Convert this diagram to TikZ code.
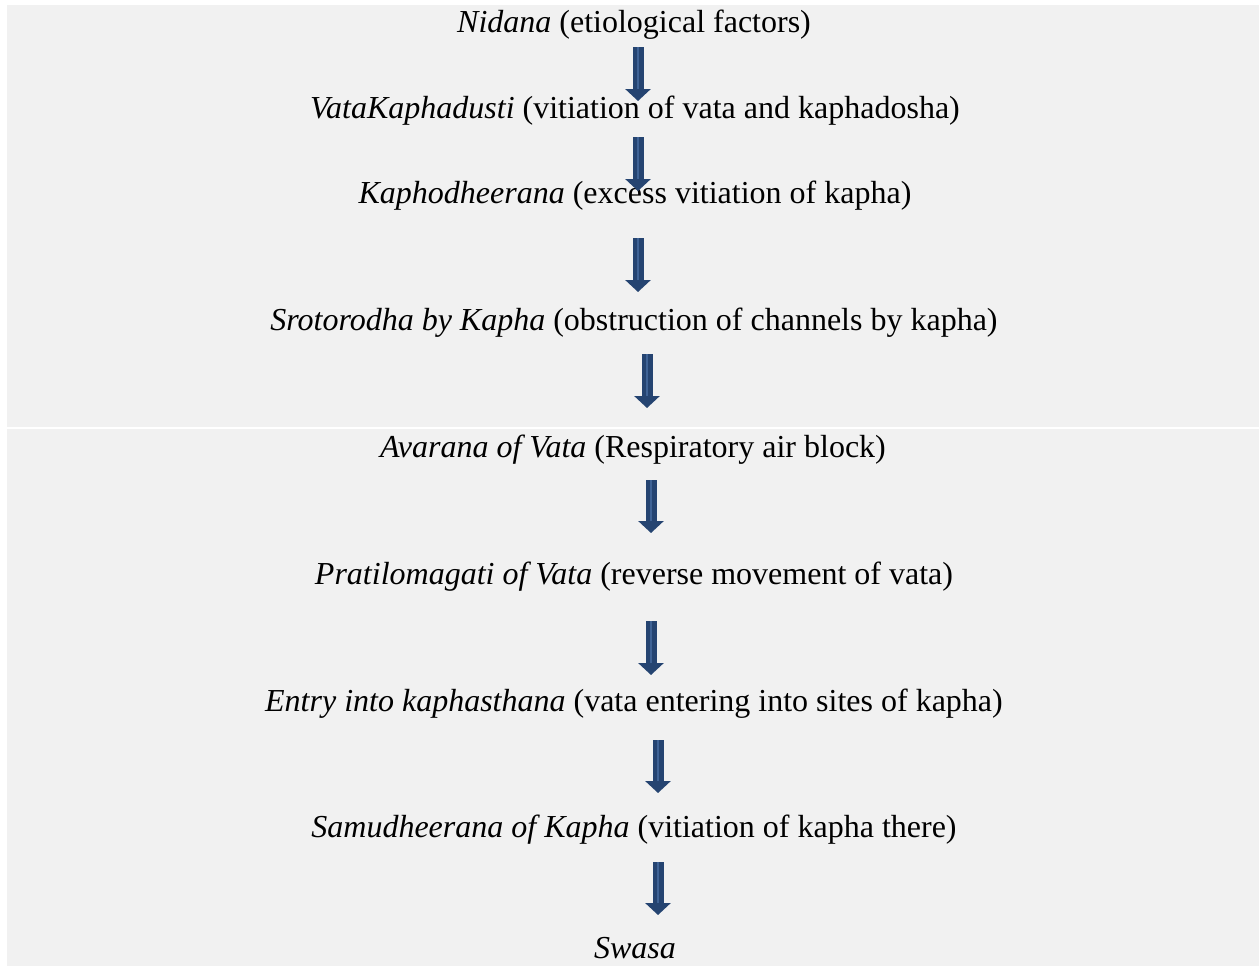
\documentclass[tikz,border=0pt]{standalone}
\usepackage{fontspec}
\setmainfont{Liberation Serif}
\usetikzlibrary{arrows.meta}

\definecolor{panel}{HTML}{F1F1F1}
\definecolor{arrowblue}{HTML}{254471}
\definecolor{arrowlight}{HTML}{3F6396}

\tikzset{
  stage/.style={anchor=base, inner sep=0pt, font=\fontsize{16}{19}\selectfont},
  flow/.style={draw=arrowblue, line width=5.5pt,
    -{Triangle[width=12.5pt, length=6pt]},
    postaction={draw=arrowlight, line width=0.8pt, -, shorten >=6pt}}
}

\begin{document}
\begin{tikzpicture}[x=0.5pt, y=-0.5pt]
  \useasboundingbox (0,0) rectangle (1259,966);

  % Background panels
  \fill[white] (0,0) rectangle (1259,966);
  \fill[panel] (7,5) rectangle (1259,427);
  \fill[panel] (7,429) rectangle (1259,966);

  % Stages
  \node[stage] (nidana) at (634,32) {\textit{Nidana} (etiological factors)};
  \node[stage] (dusti) at (635,118) {\textit{VataKaphadusti} (vitiation of vata and kaphadosha)};
  \node[stage] (udheerana) at (635,203) {\textit{Kaphodheerana} (excess vitiation of kapha)};
  \node[stage] (srotorodha) at (634,330) {\textit{Srotorodha by Kapha} (obstruction of channels by kapha)};
  \node[stage] (avarana) at (633,457) {\textit{Avarana of Vata} (Respiratory air block)};
  \node[stage] (pratiloma) at (634,584) {\textit{Pratilomagati of Vata} (reverse movement of vata)};
  \node[stage] (entry) at (634,711) {\textit{Entry into kaphasthana} (vata entering into sites of kapha)};
  \node[stage] (samudheerana) at (634,837) {\textit{Samudheerana of Kapha} (vitiation of kapha there)};
  \node[stage] (swasa) at (635,958) {\textit{Swasa}};

  % Block arrows
  \foreach \x/\ya/\yb [count=\i] in {638/47/101, 638/137/191, 638/238/292, 647/354/408,
                                      651/480/533, 651/621/675, 658/740/793, 658/862/915} {
    \coordinate (top\i) at (\x,\ya);
    \coordinate (tip\i) at (\x,\yb);
    \draw[flow] (top\i) -- (tip\i);
  }
\end{tikzpicture}
\end{document}
